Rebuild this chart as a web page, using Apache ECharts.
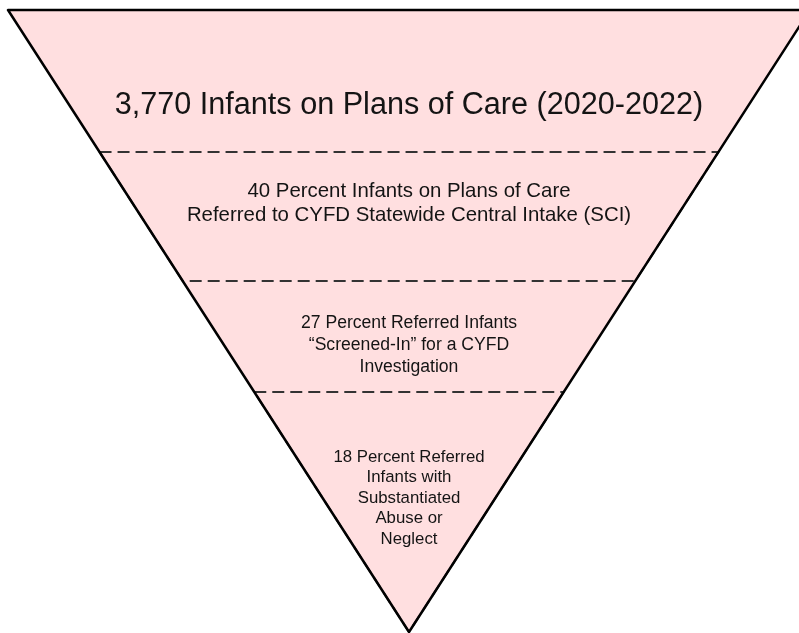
<!DOCTYPE html>
<html>
<head>
<meta charset="utf-8">
<script src="https://cdn.jsdelivr.net/npm/echarts@6/dist/echarts.min.js"></script>
<style>
  html, body { margin: 0; padding: 0; background: #fff; }
  #chart { width: 799px; height: 633px; }
</style>
</head>
<body>
<div id="chart"></div>
<script>
// stages of the funnel, top to bottom
const stageNames = ["total", "referred", "screenedIn", "substantiated"];
const stageValues = [3770, 40, 27, 18];
const stageLabels = [
  "3,770 Infants on Plans of Care (2020-2022)",
  "40 Percent Infants on Plans of Care\nReferred to CYFD Statewide Central Intake (SCI)",
  "27 Percent Referred Infants\n\u201cScreened-In\u201d for a CYFD\nInvestigation",
  "18 Percent Referred\nInfants with\nSubstantiated\nAbuse or\nNeglect",
];

// layout of the drawing (not data)
const bandHeights = [142, 129, 111, 240];
// shift of each label from the band centre (px, + is down)
const labelShift = [25, -13, 9, -14];
const labelStyles = [
  { fontSize: 30.6, lineHeight: 34 },
  { fontSize: 20.4, lineHeight: 24 },
  { fontSize: 17.6, lineHeight: 22 },
  { fontSize: 16.8, lineHeight: 20.5 },
];

let chart = echarts.init(document.getElementById("chart"));
let totalHeight = bandHeights.reduce((a, b) => a + b, 0);
let box = { left: 8, top: 10, width: 802, height: totalHeight };
let pink = "#ffdfe0";

// spacer line above or below the text moves it off the band centre
function shifted(text, shift) {
  let h = Math.abs(shift) * 2;
  if (!h) return text;
  let sp = "{sp" + h + "| }";
  return shift > 0 ? sp + "\n" + text : text + "\n" + sp;
}

// width of each band's top edge follows the triangle
let widths = [];
let remaining = totalHeight;
bandHeights.forEach((h) => {
  widths.push((remaining / totalHeight) * 100);
  remaining -= h;
});

let bandData = stageNames.map((name, i) => {
  let h = Math.abs(labelShift[i]) * 2;
  let rich = {};
  rich["sp" + h] = { fontSize: 1, lineHeight: h };
  return {
    name: stageLabels[i],
    value: widths[i],
    raw: stageValues[i],
    itemStyle: { height: bandHeights[i] },
    label: {
      ...labelStyles[i],
      formatter: shifted(stageLabels[i], labelShift[i]),
      rich: rich,
    },
  };
});

// dividers: every second band is stroked dashed so each divider is drawn once
let dividerData = stageNames.map((name, i) => {
  let dashed = i % 2 === 1;
  return {
    name: name,
    value: widths[i],
    itemStyle: {
      height: bandHeights[i],
      borderColor: dashed ? "#333" : "rgba(0,0,0,0)",
      borderWidth: dashed ? 2 : 0,
    },
  };
});

let funnelBase = {
  type: "funnel",
  silent: true,
  ...box,
  min: 0,
  max: 100,
  minSize: "0%",
  maxSize: "100%",
  sort: "descending",
  gap: 0,
  labelLine: { show: false },
};

let option = {
  animation: false,
  series: [
    {
      ...funnelBase,
      z: 2,
      itemStyle: { color: pink, borderWidth: 0 },
      label: {
        show: true,
        position: "inside",
        color: "#141414",
        fontFamily: "Liberation Sans, Arial, sans-serif",
        textBorderWidth: 0,
      },
      data: bandData,
    },
    {
      ...funnelBase,
      z: 3,
      itemStyle: { color: "rgba(0,0,0,0)", borderType: [12, 6] },
      label: { show: false },
      data: dividerData,
    },
    {
      ...funnelBase,
      z: 5,
      label: { show: false },
      itemStyle: {
        color: "rgba(0,0,0,0)",
        borderColor: "#000",
        borderWidth: 2.5,
      },
      data: [{ name: "outline", value: 100 }],
    },
  ],
};

chart.setOption(option);
</script>
</body>
</html>
